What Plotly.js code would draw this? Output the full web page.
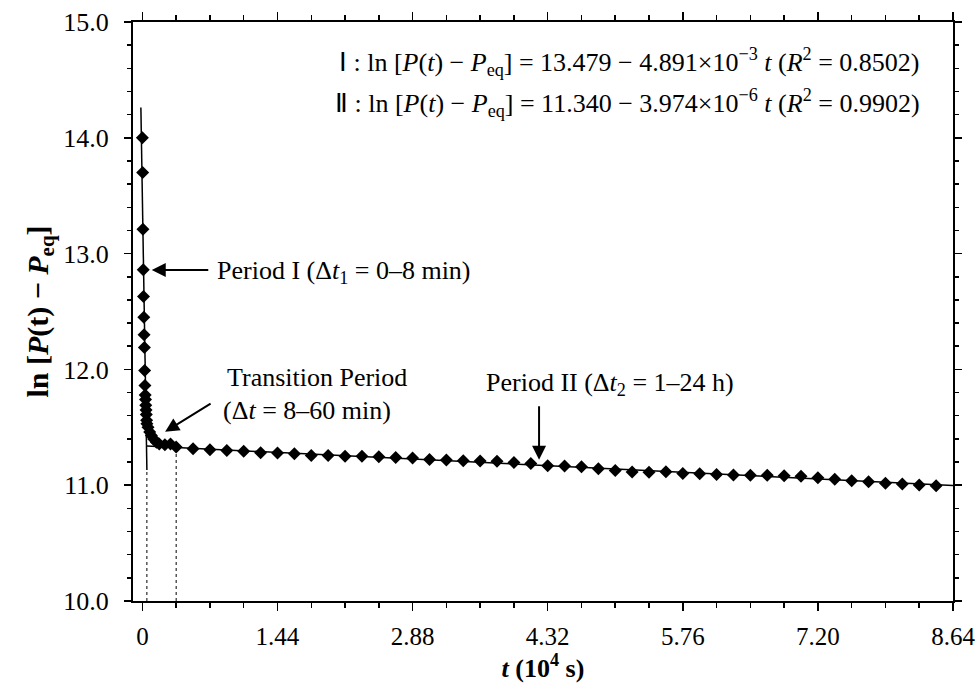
<!DOCTYPE html>
<html>
<head>
<meta charset="utf-8">
<script src="https://cdn.plot.ly/plotly-3.0.1.min.js"></script>
<style>html,body{margin:0;padding:0;background:#fff;}#chart{width:976px;height:686px;}</style>
</head>
<body>
<div id="chart"></div>
<script>
// ---- Data (x in seconds / minutes / hours, converted to 10^4 s below) ----
const periodI_t_s = [0, 30, 60, 90, 120, 150, 180, 210, 240, 270, 300, 330, 360, 390, 420, 450, 480];
const periodI_ln  = [14.00, 13.70, 13.21, 12.86, 12.63, 12.45, 12.30, 12.19, 11.99, 11.86, 11.78, 11.74, 11.69, 11.65, 11.61, 11.56, 11.53];

const transition_t_min = [10, 13, 16, 20, 25, 30, 40, 50];
const transition_ln    = [11.50, 11.46, 11.43, 11.40, 11.37, 11.355, 11.35, 11.355];

const periodII_t_h = [1, 1.5, 2, 2.5, 3, 3.5, 4, 4.5, 5, 5.5, 6, 6.5, 7, 7.5, 8,
  8.5, 9, 9.5, 10, 10.5, 11, 11.5, 12, 12.5, 13, 13.5, 14, 14.5, 15, 15.5, 16,
  16.5, 17, 17.5, 18, 18.5, 19, 19.5, 20, 20.5, 21, 21.5, 22, 22.5, 23, 23.5];
const periodII_ln = [11.329, 11.314, 11.306, 11.300, 11.294, 11.280, 11.277, 11.271, 11.257, 11.257,
  11.249, 11.249, 11.245, 11.240, 11.234,
  11.223, 11.217, 11.212, 11.210, 11.207, 11.196, 11.188, 11.168, 11.165, 11.159, 11.142, 11.128,
  11.115, 11.112, 11.116, 11.100, 11.098, 11.093, 11.088, 11.086, 11.085, 11.081, 11.078, 11.064,
  11.052, 11.039, 11.030, 11.016, 11.010, 11.002, 10.996];

// Linear fits: ln[P(t)-Peq] = a + b t  (t in s)
const fitI  = {a: 13.479, b: -4.891e-3, t_from: -160, t_to: 480};
const fitII = {a: 11.340, b: -3.974e-6, t_from: 480, t_to: 86400};
const boundaries_t_s = [480, 3600];

// Axis ticks
const xTickVals = [0, 1.44, 2.88, 4.32, 5.76, 7.20, 8.64];
const xTickText = ['0', '1.44', '2.88', '4.32', '5.76', '7.20', '8.64'];
const yTickVals = [10, 11, 12, 13, 14, 15];
const yTickText = ['10.0', '11.0', '12.0', '13.0', '14.0', '15.0'];

// ---- Build ----
const toX = s => s / 1e4;
const fitVal = (f, t) => f.a + f.b * t;

const allX = periodI_t_s.map(toX)
  .concat(transition_t_min.map(m => toX(m * 60)))
  .concat(periodII_t_h.map(h => toX(h * 3600)));
const allY = periodI_ln.concat(transition_ln).concat(periodII_ln);

const FONT = 'Liberation Serif, Times New Roman, serif';

const traces = [];
[fitI, fitII].forEach(f => {
  traces.push({
    x: [toX(f.t_from), toX(f.t_to)],
    y: [fitVal(f, f.t_from), fitVal(f, f.t_to)],
    mode: 'lines', line: {color: '#000', width: 1.5}, hoverinfo: 'skip', showlegend: false
  });
});
const dotTops = [fitVal(fitI, boundaries_t_s[0]), fitVal(fitII, boundaries_t_s[1])];
boundaries_t_s.forEach((t, i) => {
  traces.push({
    x: [toX(t), toX(t)], y: [10, dotTops[i]],
    mode: 'lines', line: {color: '#000', width: 1, dash: 'dot'}, hoverinfo: 'skip', showlegend: false
  });
});
traces.push({
  x: allX, y: allY, mode: 'markers',
  marker: {symbol: 'diamond', size: 10, color: '#000'}, showlegend: false
});

const ann = [];
function txt(xp, yp, text, size, xanchor) {
  ann.push({x: xp, y: yp, xref: 'x', yref: 'y', text: text, showarrow: false,
    xanchor: xanchor || 'left', yanchor: 'middle', font: {family: FONT, size: size || 26, color: '#000'}});
}
function arrow(xh, yh, ax, ay) {
  ann.push({x: xh, y: yh, xref: 'x', yref: 'y', text: '', showarrow: true,
    ax: ax, ay: ay, arrowhead: 2, arrowsize: 1.4, arrowwidth: 2, arrowcolor: '#000', standoff: 0});
}
txt(8.31, 14.655, 'Ⅰ : ln [<i>P</i>(<i>t</i>) − <i>P</i><sub>eq</sub>] = 13.479 − 4.891×10<sup>−3</sup> <i>t</i> (<i>R</i><sup>2</sup> = 0.8502)', 26, 'right');
txt(8.31, 14.30, 'Ⅱ : ln [<i>P</i>(<i>t</i>) − <i>P</i><sub>eq</sub>] = 11.340 − 3.974×10<sup>−6</sup> <i>t</i> (<i>R</i><sup>2</sup> = 0.9902)', 26, 'right');
txt(0.775, 12.841, 'Period I (Δ<i>t</i><sub>1</sub> = 0–8 min)');
txt(0.881, 11.926, 'Transition Period');
txt(0.839, 11.649, '(Δ<i>t</i> = 8–60 min)');
txt(3.642, 11.874, 'Period II (Δ<i>t</i><sub>2</sub> = 1–24 h)');
arrow(0.100, 12.858, 58, 0);
arrow(0.242, 11.462, 47, -29);
arrow(4.228, 11.22, 0, -55);

const axisCommon = {
  showline: true, linecolor: '#000', linewidth: 2, mirror: 'ticks',
  ticks: 'outside', tickcolor: '#000', tickwidth: 1.5,
  showgrid: false, zeroline: false,
  tickfont: {family: FONT, size: 25, color: '#000'}
};

const layout = {
  width: 976, height: 686,
  margin: {l: 133, r: 23, t: 22, b: 85},
  paper_bgcolor: '#fff', plot_bgcolor: '#fff',
  font: {family: FONT, color: '#000'},
  xaxis: Object.assign({}, axisCommon, {
    range: [-0.10, 8.64], tickmode: 'array', tickvals: xTickVals, ticktext: xTickText,
    ticklen: 8, ticklabelstandoff: 4,
    minor: {tickmode: 'linear', tick0: 0, dtick: 0.36, ticks: 'outside', ticklen: 5, tickcolor: '#000', tickwidth: 1.5, showgrid: false},
    title: {text: '<b><i>t</i> (10<sup>4</sup> s)</b>', font: {family: FONT, size: 26, color: '#000'}, standoff: 6}
  }),
  yaxis: Object.assign({}, axisCommon, {
    range: [10, 15], tickmode: 'array', tickvals: yTickVals, ticktext: yTickText,
    ticklen: 7, ticklabelstandoff: 10,
    tickfont: {family: FONT, size: 26, color: '#000'},
    minor: {tickmode: 'linear', tick0: 10, dtick: 0.2, ticks: 'outside', ticklen: 4, tickcolor: '#000', tickwidth: 1.5, showgrid: false},
    title: {text: '<b>ln [<i>P</i>(t) − <i>P</i><sub>eq</sub>]</b>', font: {family: FONT, size: 30, color: '#000'}, standoff: 6}
  }),
  annotations: ann
};

Plotly.newPlot('chart', traces, layout, {displayModeBar: false, staticPlot: true});
</script>
</body>
</html>
